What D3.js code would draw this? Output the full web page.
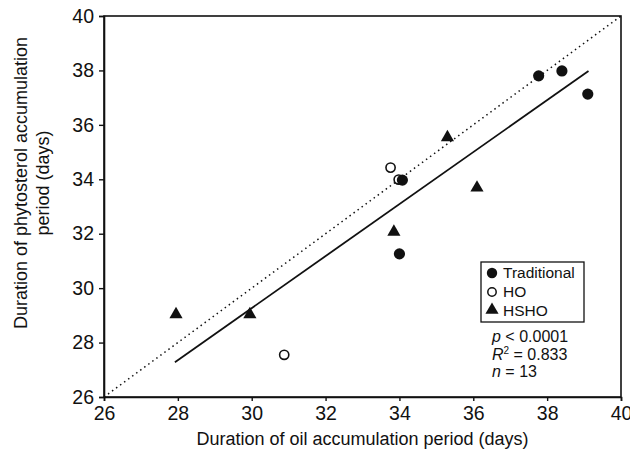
<!DOCTYPE html>
<html>
<head>
<meta charset="utf-8">
<script src="https://cdn.jsdelivr.net/npm/d3@7"></script>
<style>
  body { margin: 0; background: #fff; }
  text { font-family: "Liberation Sans", Arial, sans-serif; fill: #111; }
</style>
</head>
<body>
<svg id="chart" width="630" height="458"></svg>
<script>
// values (days)
var tradX = [37.77, 38.4, 39.1, 34.08, 34.0];
var tradY = [37.8, 37.98, 37.13, 33.97, 31.26];
var hoX = [33.76, 33.98, 30.88];
var hoY = [34.43, 33.99, 27.55];
var hshoX = [27.95, 29.95, 35.3, 36.1, 33.85];
var hshoY = [29.0, 29.0, 35.5, 33.65, 32.03];
var fitX = [27.92, 39.12];
var fitY = [27.28, 37.98];
var ticks = [26, 28, 30, 32, 34, 36, 38, 40];

var svg = d3.select("#chart");
var pl = 104, pr = 621, pt = 16, pb = 397;

var x = d3.scaleLinear().domain([26, 40]).range([pl, pr]);
var y = d3.scaleLinear().domain([26, 40]).range([pb, pt]);

// frame
svg.append("rect")
  .attr("x", pl).attr("y", pt)
  .attr("width", pr - pl).attr("height", pb - pt)
  .attr("fill", "none").attr("stroke", "#111").attr("stroke-width", 1.6);

var xAxis = svg.append("g")
  .attr("transform", "translate(0," + pb + ")")
  .call(d3.axisBottom(x).tickValues(ticks).tickSize(4).tickPadding(5).tickFormat(d3.format("d")));
var yAxis = svg.append("g")
  .attr("transform", "translate(" + pl + ",0)")
  .call(d3.axisLeft(y).tickValues(ticks).tickSize(5).tickPadding(5).tickFormat(d3.format("d")));

[xAxis, yAxis].forEach(function(g) {
  g.select(".domain").attr("stroke", "#111").attr("stroke-width", 1.6);
  g.selectAll(".tick line").attr("stroke", "#111").attr("stroke-width", 1.4);
  g.selectAll(".tick text").style("font-size", "19.5px").attr("fill", "#111")
    .style("font-family", "'Liberation Sans', Arial, sans-serif");
});

// 1:1 line
svg.append("line")
  .attr("x1", x(26)).attr("y1", y(26)).attr("x2", x(40)).attr("y2", y(40))
  .attr("stroke", "#111").attr("stroke-width", 1.5).attr("stroke-dasharray", "1.5,3.5");

// regression line
svg.append("line")
  .attr("x1", x(fitX[0])).attr("y1", y(fitY[0])).attr("x2", x(fitX[1])).attr("y2", y(fitY[1]))
  .attr("stroke", "#111").attr("stroke-width", 1.8);

var tri = d3.symbol().type(d3.symbolTriangle).size(75);

svg.selectAll(".trad").data(tradX).enter().append("circle")
  .attr("cx", function(d) { return x(d); })
  .attr("cy", function(d, i) { return y(tradY[i]); })
  .attr("r", 5.6).attr("fill", "#111");

svg.selectAll(".ho").data(hoX).enter().append("circle")
  .attr("cx", function(d) { return x(d); })
  .attr("cy", function(d, i) { return y(hoY[i]); })
  .attr("r", 4.6).attr("fill", "none").attr("stroke", "#111").attr("stroke-width", 1.6);

svg.selectAll(".hsho").data(hshoX).enter().append("path")
  .attr("d", tri)
  .attr("transform", function(d, i) { return "translate(" + x(d) + "," + (y(hshoY[i]) - 1) + ")"; })
  .attr("fill", "#111");

// legend
var lg = svg.append("g").attr("transform", "translate(481,262)");
lg.append("rect").attr("width", 103).attr("height", 60)
  .attr("fill", "#fff").attr("stroke", "#111").attr("stroke-width", 1.3);
lg.append("circle").attr("cx", 11).attr("cy", 11).attr("r", 5.2).attr("fill", "#111");
lg.append("circle").attr("cx", 11).attr("cy", 30).attr("r", 4.2)
  .attr("fill", "none").attr("stroke", "#111").attr("stroke-width", 1.5);
lg.append("path").attr("d", tri).attr("transform", "translate(11,48)").attr("fill", "#111");
["Traditional", "HO", "HSHO"].forEach(function(t, i) {
  lg.append("text").attr("x", 22).attr("y", 16 + i * 19).style("font-size", "15.5px").text(t);
});

// stats
var st = svg.append("g").style("font-size", "16px");
var t1 = st.append("text").attr("x", 492).attr("y", 342);
t1.append("tspan").style("font-style", "italic").text("p");
t1.append("tspan").text(" < 0.0001");
var t2 = st.append("text").attr("x", 492).attr("y", 360);
t2.append("tspan").style("font-style", "italic").text("R");
t2.append("tspan").attr("dy", -6).style("font-size", "10px").text("2");
t2.append("tspan").attr("dy", 6).text(" = 0.833");
var t3 = st.append("text").attr("x", 492).attr("y", 377);
t3.append("tspan").style("font-style", "italic").text("n");
t3.append("tspan").text(" = 13");

// axis titles
svg.append("text").attr("x", (pl + pr) / 2).attr("y", 445)
  .attr("text-anchor", "middle").style("font-size", "18px")
  .text("Duration of oil accumulation period (days)");
var yt = svg.append("text").attr("transform", "translate(27,183) rotate(-90)")
  .attr("text-anchor", "middle").style("font-size", "18px");
yt.append("tspan").attr("x", 0).attr("y", 0).text("Duration of phytosterol accumulation");
yt.append("tspan").attr("x", 0).attr("y", 22).text("period (days)");
</script>
</body>
</html>
